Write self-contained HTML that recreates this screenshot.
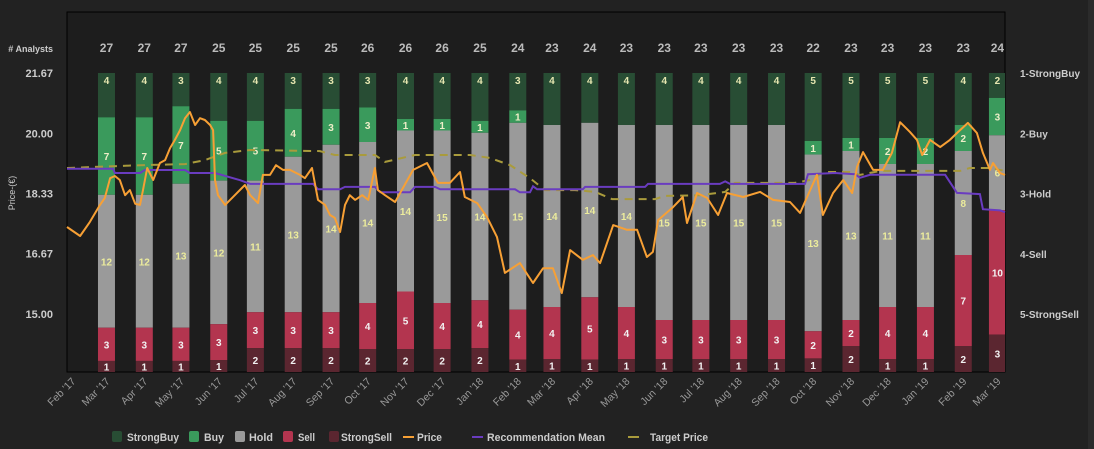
<!DOCTYPE html>
<html><head><meta charset="utf-8"><style>
html,body{margin:0;padding:0;background:#222;width:1094px;height:449px;overflow:hidden}
svg{display:block;font-family:"Liberation Sans",sans-serif}
</style></head><body>
<svg id="chart" width="1094" height="449">
<rect x="0" y="0" width="1094" height="449" fill="#222"/>
<rect x="1088" y="0" width="6" height="449" fill="#2b2b2b"/>
<rect x="67" y="12" width="938" height="360" fill="#1d1d1d" stroke="#000" stroke-width="1"/>
<g id="bars"></g>
<g id="lines"></g>
<g id="axes"></g>
<g id="legend"></g>
</svg>
<script>
const months=["Mar '17","Apr '17","May '17","Jun '17","Jul '17","Aug '17","Sep '17","Oct '17","Nov '17","Dec '17","Jan '18","Feb '18","Mar '18","Apr '18","May '18","Jun '18","Jul '18","Aug '18","Sep '18","Oct '18","Nov '18","Dec '18","Jan '19","Feb '19","Mar '19"];
const strongBuy=[4,4,3,4,4,3,3,3,4,4,4,3,4,4,4,4,4,4,4,5,5,5,5,4,2];
const buy=[7,7,7,5,5,4,3,3,1,1,1,1,0,0,0,0,0,0,0,1,1,2,2,2,3];
const hold=[12,12,13,12,11,13,14,14,14,15,14,15,14,14,14,15,15,15,15,13,13,11,11,8,6];
const sell=[3,3,3,3,3,3,3,4,5,4,4,4,4,5,4,3,3,3,3,2,2,4,4,7,10];
const strongSell=[1,1,1,1,2,2,2,2,2,2,2,1,1,1,1,1,1,1,1,1,2,1,1,2,3];
const axisLabels=["Feb '17","Mar '17","Apr '17","May '17","Jun '17","Jul '17","Aug '17","Sep '17","Oct '17","Nov '17","Dec '17","Jan '18","Feb '18","Mar '18","Apr '18","May '18","Jun '18","Jul '18","Aug '18","Sep '18","Oct '18","Nov '18","Dec '18","Jan '19","Feb '19","Mar '19"];
const priceTicks=[21.67,20.00,18.33,16.67,15.00];
const ratingTicks=["1-StrongBuy","2-Buy","3-Hold","4-Sell","5-StrongSell"];
const priceM=[0,.35,.61,.88,1.01,1.15,1.28,1.41,1.55,1.68,1.82,1.95,2.03,2.14,2.30,2.48,2.62,2.75,2.88,3.02,3.15,3.28,3.42,3.55,3.68,3.82,3.90,3.95,4.03,4.22,4.48,4.75,4.89,5.10,5.23,5.42,5.58,5.77,5.95,6.22,6.35,6.54,6.70,6.89,7.02,7.15,7.29,7.42,7.55,7.69,7.88,8.04,8.22,8.30,8.49,8.76,9.24,9.61,9.90,10.22,10.49,10.62,10.95,11.21,11.48,11.69,12.09,12.44,12.71,12.97,13.21,13.43,13.77,14.04,14.23,14.58,14.95,15.22,15.48,15.64,15.78,16.18,16.44,16.55,16.82,17.09,17.38,17.62,18.05,18.50,18.85,19.30,19.57,20.02,20.18,20.45,20.72,20.96,21.09,21.25,21.52,21.78,22.02,22.24,22.50,22.69,22.83,23.04,23.31,23.57,23.76,24.05,24.29,24.45,24.64,24.72,24.91,25.04];
const priceV=[17.41,17.16,17.55,18.02,18.21,18.76,18.82,18.71,18.29,18.43,18.05,18.02,18.43,19.04,18.71,19.18,19.26,19.59,19.82,20.09,20.42,20.59,20.23,20.42,20.37,20.23,20.09,18.71,18.29,18.02,18.29,18.57,18.29,18.07,18.85,18.85,19.12,18.99,18.99,18.85,18.76,19.04,18.16,18.02,17.74,17.66,17.27,18.02,18.29,18.16,18.29,18.16,19.04,18.43,18.29,18.10,18.99,19.18,18.63,18.63,18.93,18.24,18.07,17.69,17.13,16.14,16.41,15.86,16.27,16.27,15.58,16.77,16.50,16.63,16.41,17.46,17.33,17.33,16.58,16.72,17.60,17.96,18.24,17.52,18.35,18.21,17.74,18.35,18.24,18.38,18.16,18.10,17.80,18.85,17.74,18.35,18.71,18.35,19.07,19.48,18.99,18.99,19.46,20.31,20.04,19.82,19.40,19.82,19.62,19.82,20.01,20.29,20.01,19.46,18.99,19.18,18.90,18.85];
const recM=[0,1.23,1.28,1.95,2.08,3.15,3.28,3.95,4.62,4.89,6.57,6.70,7.29,7.42,8.22,8.36,9.16,9.29,9.82,9.96,11.96,12.09,12.36,12.44,12.55,13.77,13.83,15.43,15.51,17.43,17.57,17.70,19.70,19.78,20.50,21.04,21.17,21.44,23.44,23.76,24.37,24.45,24.91,25.04];
const recV=[2.59,2.59,2.66,2.66,2.61,2.61,2.66,2.66,2.78,2.84,2.84,2.93,2.93,2.89,2.89,2.98,2.98,2.89,2.89,2.93,2.93,2.98,2.98,2.88,2.93,2.93,2.89,2.89,2.84,2.84,2.80,2.84,2.84,2.68,2.66,2.68,2.74,2.69,2.69,2.99,3.01,3.26,3.28,3.31];
const tgtM=[0,1.95,3.15,3.68,4.22,4.89,6.75,7.15,8.22,8.49,9.29,10.76,11.29,11.83,12.36,12.76,13.56,14.10,14.55,15.70,15.96,16.90,17.57,17.83,19.43,19.83,20.23,20.90,21.17,21.71,23.84,24.10,24.64,25.04];
const tgtV=[19.04,19.12,19.15,19.26,19.46,19.54,19.51,19.40,19.40,19.21,19.40,19.40,19.32,19.12,18.76,18.43,18.43,18.38,18.18,18.18,18.27,18.29,18.38,18.63,18.63,18.71,18.93,18.93,18.85,18.96,18.96,19.04,19.04,18.96];

const NS="http://www.w3.org/2000/svg";
function mk(tag,attrs,parent,text){const e=document.createElementNS(NS,tag);for(const k in attrs)e.setAttribute(k,attrs[k]);if(text!==undefined)e.textContent=text;parent.appendChild(e);return e;}
const PT=73,PB=372,PL=67,PR=1005;
const day0=Date.UTC(2017,1,1);
function xDay(ms){return 72.3+(ms-day0)/86400000*1.2205;}
function monthDate(i){return Date.UTC(2017,1+i,1);}
function lineX(m){return 67+m*37.46;}
function yPrice(p){return 73+(21.67-p)*36.14;}
function yRating(r){return 73+(r-1)*60.25;}

const gb=document.getElementById('bars');
const segs=[[strongBuy,"#284d34","#e6e6b0","strong-buy"],[buy,"#3a9a5c","#eeeec8","buy"],[hold,"#9a9a9a","#ecec9c","hold"],[sell,"#b3354f","#f2f2f2","sell"],[strongSell,"#5b2630","#f2f2f2","strong-sell"]];
months.forEach((m,i)=>{
  const cx=xDay(monthDate(i+1));
  const tot=strongBuy[i]+buy[i]+hold[i]+sell[i]+strongSell[i];
  const t=mk('text',{x:cx,y:52,'text-anchor':'middle','font-size':12,'font-weight':'bold',fill:'#bbb'},gb,String(tot));
  
  
  let y=PT;
  segs.forEach((s,k)=>{
    const v=s[0][i]; if(!v) return;
    const h=v/tot*(PB-PT);
    let x0=cx-8.5,w=17; if(x0+w>PR){w=PR-x0;}
    const r=mk('rect',{x:x0,y:y,width:w,height:h,fill:s[1]},gb);
    
    
    const ly=k===0?y+11:y+h/2+4;
    const l=mk('text',{x:cx,y:ly,'text-anchor':'middle','font-size':10,'font-weight':'bold',fill:s[2]},gb,String(v));
    
    
    y+=h;
  });
});

const gl=document.getElementById('lines');
function poly(xs,ys,fx,fy){return xs.map((m,i)=>fx(m).toFixed(1)+','+fy(ys[i]).toFixed(1)).join(' ');}
const tl=mk('polyline',{points:poly(tgtM,tgtV,lineX,yPrice),fill:'none',stroke:'#a99b3c','stroke-width':2,'stroke-dasharray':'8,6'},gl);


const rl=mk('polyline',{points:poly(recM,recV,lineX,yRating),fill:'none',stroke:'#6a3cc0','stroke-width':2},gl);


const pl=mk('polyline',{points:poly(priceM,priceV,lineX,yPrice),fill:'none',stroke:'#f7a035','stroke-width':2,'stroke-linejoin':'round'},gl);



const ga=document.getElementById('axes');
const al=mk('text',{x:53,y:52,'text-anchor':'end','font-size':9,'font-weight':'bold',fill:'#ccc'},ga,'# Analysts');


priceTicks.forEach((p,i)=>{
  const t=mk('text',{x:53,y:yPrice(p)+4,'text-anchor':'end','font-size':11,'font-weight':'bold',fill:'#ccc'},ga,p.toFixed(2));
  
  
});
ratingTicks.forEach((r,i)=>{
  const t=mk('text',{x:1020,y:yRating(i+1)+4,'font-size':10,'font-weight':'bold',fill:'#ccc'},ga,r);
  
  
});
const yt=mk('text',{x:0,y:0,transform:'translate(15,193) rotate(-90)','text-anchor':'middle','font-size':9,fill:'#ccc'},ga,'Price-(€)');


axisLabels.forEach((lab,i)=>{
  const x=xDay(monthDate(i));
  const t=mk('text',{x:0,y:0,transform:`translate(${x+4},382) rotate(-45)`,'text-anchor':'end','font-size':10.5,fill:'#999'},ga,lab);
  
  
});

const gg=document.getElementById('legend');
const items=[["StrongBuy","#284d34",112,"sq",127,52],["Buy","#3a9a5c",189,"sq",204,20],["Hold","#9a9a9a",235,"sq",249,24],["Sell","#b3354f",283,"sq",298,17],["StrongSell","#5b2630",329,"sq",341,51],["Price","#f7a035",403,"ln",417,25],["Recommendation Mean","#6a3cc0",472,"ln",487,118],["Target Price","#a99b3c",628,"ln",650,58]];
items.forEach(it=>{
  const g=mk('g',{},gg);
  
  
  if(it[3]==='sq'){mk('rect',{x:it[2],y:431,width:10,height:11,rx:2,fill:it[1]},g);}
  else {mk('line',{x1:it[2],y1:437,x2:it[2]+11,y2:437,stroke:it[1],'stroke-width':2},g);}
  mk('text',{x:it[4],y:441,'font-size':11,'font-weight':'bold',fill:'#ccc',textLength:it[5],lengthAdjust:'spacingAndGlyphs'},g,it[0]);
});
</script>
</body></html>
